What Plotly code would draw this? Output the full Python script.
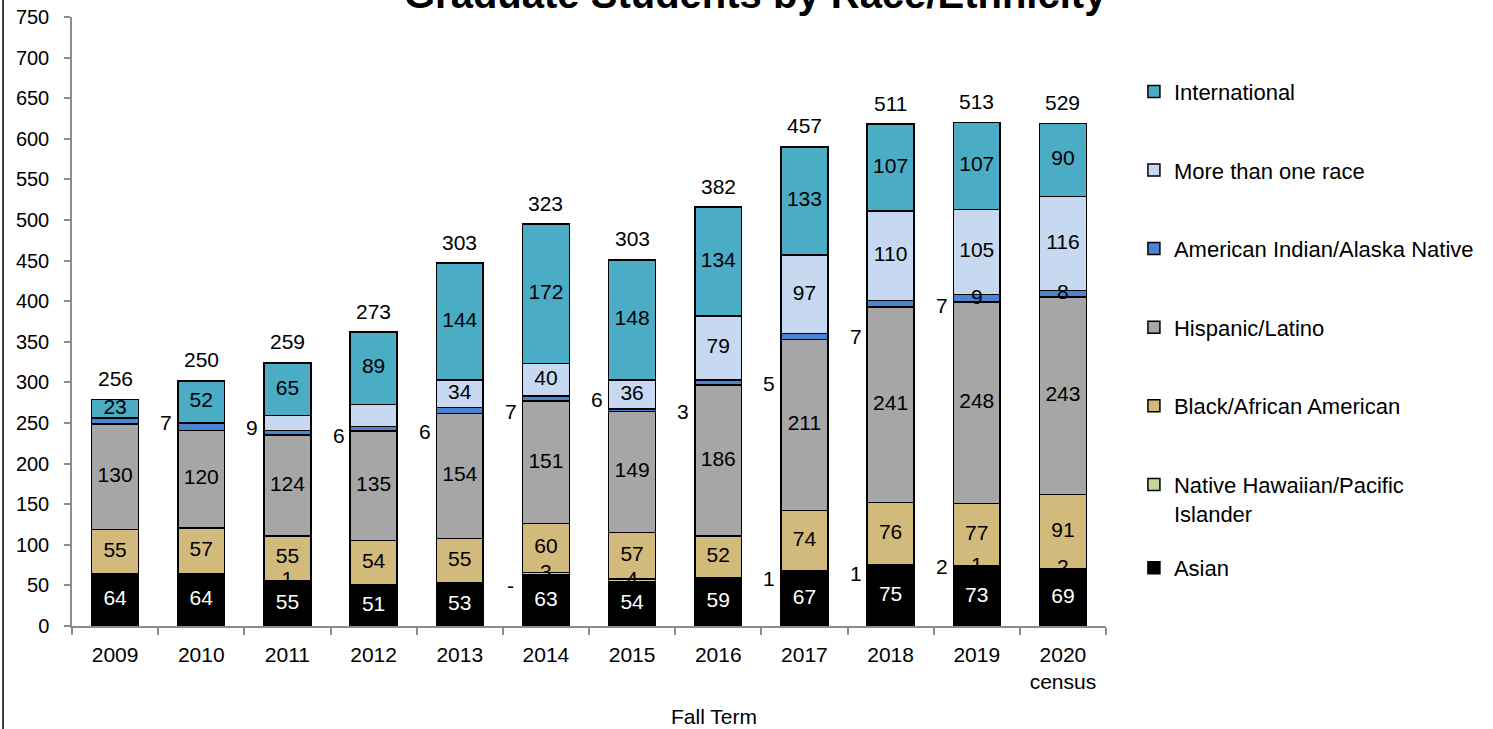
import numpy as np
import plotly.graph_objects as go

# ---------------- data ----------------
years = ["2009", "2010", "2011", "2012", "2013", "2014", "2015", "2016", "2017", "2018", "2019", "2020"]
year_ticktext = ["2009", "2010", "2011", "2012", "2013", "2014", "2015", "2016", "2017", "2018", "2019", "2020<br>census"]

asian = [64, 64, 55, 51, 53, 63, 54, 59, 67, 75, 73, 69]
native_hawaiian = [0, 0, 1, 0, 0, 3, 4, 0, 1, 1, 1, 2]
black = [55, 57, 55, 54, 55, 60, 57, 52, 74, 76, 77, 91]
hispanic = [130, 120, 124, 135, 154, 151, 149, 186, 211, 241, 248, 243]
am_indian = [7, 9, 6, 6, 7, 6, 3, 6, 7, 8, 9, 8]
multi_race = [0, 0, 18, 27, 34, 40, 36, 79, 97, 110, 105, 116]
international = [23, 52, 65, 89, 144, 172, 148, 134, 133, 107, 107, 90]

# which segments carry a value label inside the bar
nh_labelled = [False, False, True, False, False, True, True, False, False, False, True, True]
aian_labelled = [False] * 10 + [True, True]
multi_labelled = [False] * 4 + [True] * 8

# labels placed beside the bars (text and the value level they sit at)
upper_side_text = ["", "7", "9", "6", "6", "7", "6", "3", "5", "7", "7", ""]
upper_side_at = [None, 251, 244, 235, 239, 264, 279, 264, 299, 356, 395, None]
lower_side_text = ["", "", "", "", "", "-", "", "", "1", "1", "2", ""]
lower_side_at = [None, None, None, None, None, 50, None, None, 59, 65, 73, None]

FONT = "Arial, Liberation Sans, sans-serif"
LBL = 21

series = [
    dict(name="Asian", y=asian, color="#000000", lab=[True] * 12, tc="white", legend="legend2"),
    dict(name="Native Hawaiian/Pacific<br>Islander", y=native_hawaiian, color="#C3D69B", lab=nh_labelled, tc="black", legend="legend"),
    dict(name="Black/African American", y=black, color="#D1BA7C", lab=[True] * 12, tc="black", legend="legend"),
    dict(name="Hispanic/Latino", y=hispanic, color="#A5A6A5", lab=[True] * 12, tc="black", legend="legend"),
    dict(name="American Indian/Alaska Native", y=am_indian, color="#4A84D2", lab=aian_labelled, tc="black", legend="legend"),
    dict(name="More than one race", y=multi_race, color="#C6D9F1", lab=multi_labelled, tc="black", legend="legend"),
    dict(name="International", y=international, color="#4BACC6", lab=[True] * 12, tc="black", legend="legend"),
]

fig = go.Figure()
base = np.zeros(len(years))
for i, s in enumerate(series):
    vals = np.array(s["y"], dtype=float)
    fig.add_trace(go.Bar(
        x=years, y=vals, name=s["name"], legendgroup=f"g{i}", legend=s["legend"],
        legendrank=100 - i,
        marker=dict(color=s["color"], line=dict(color="black", width=1.5)),
        hoverinfo="skip",
    ))
    mids = base + vals / 2
    xs = [x for x, l in zip(years, s["lab"]) if l]
    ys = [m for m, l in zip(mids, s["lab"]) if l]
    ts = [str(int(v)) for v, l in zip(vals, s["lab"]) if l]
    fig.add_trace(go.Scatter(
        x=xs, y=ys, text=ts, mode="text", textposition="middle center",
        textfont=dict(family=FONT, size=LBL, color=s["tc"]),
        showlegend=False, hoverinfo="skip",
    ))
    base = base + vals

domestic = (np.array(asian) + np.array(native_hawaiian) + np.array(black) + np.array(hispanic)
            + np.array(am_indian) + np.array(multi_race))
stack_top = base

annotations = []
for idx, (top, tot) in enumerate(zip(stack_top, domestic)):
    annotations.append(dict(x=idx, y=top, xref="x", yref="y", text=str(int(tot)), showarrow=False,
                            yshift=21, font=dict(family=FONT, size=LBL, color="black")))
for idx, (t, at) in enumerate(zip(upper_side_text, upper_side_at)):
    if t:
        annotations.append(dict(x=idx, y=at, xref="x", yref="y", text=t, showarrow=False,
                                xshift=-35, font=dict(family=FONT, size=LBL, color="black")))
for idx, (t, at) in enumerate(zip(lower_side_text, lower_side_at)):
    if t:
        annotations.append(dict(x=idx, y=at, xref="x", yref="y", text=t, showarrow=False,
                                xshift=-35, font=dict(family=FONT, size=LBL, color="black")))

annotations.append(dict(x=0.6615, y=0.999, xref="paper", yref="paper", xanchor="center", yanchor="bottom",
                        text="<b>Graduate Students by Race/Ethnicity</b>", showarrow=False,
                        font=dict(family=FONT, size=40, color="black")))
annotations.append(dict(x=0.621, y=-0.1494, xref="paper", yref="paper", xanchor="center", yanchor="middle",
                        text="Fall Term", showarrow=False, font=dict(family=FONT, size=21, color="black")))

AXIS_COLOR = "#8C8C8C"
fig.update_layout(
    width=1493, height=729,
    margin=dict(l=72, r=387, t=17, b=103),
    paper_bgcolor="white", plot_bgcolor="white",
    barmode="stack", bargap=0.455,
    font=dict(family=FONT, size=20, color="black"),
    annotations=annotations,
    shapes=[dict(type="line", xref="paper", yref="paper", x0=-0.0667, x1=-0.0667, y0=-0.2, y1=1.05,
                 line=dict(color="black", width=1.5))],
    xaxis=dict(
        type="category", categoryorder="array", categoryarray=years,
        tickmode="array", tickvals=years, ticktext=year_ticktext,
        range=[-0.5, len(years) - 0.5], autorange=False,
        showline=True, linecolor=AXIS_COLOR, linewidth=1.5, automargin=False,
        ticks="outside", tickson="boundaries", ticklen=7, tickcolor=AXIS_COLOR, tickwidth=1.5,
        showgrid=False, tickfont=dict(family=FONT, size=21, color="black"), ticklabelstandoff=9,
    ),
    yaxis=dict(
        range=[0, 750], autorange=False, dtick=50, showline=True, linecolor=AXIS_COLOR, linewidth=1.5,
        ticks="outside", ticklen=6, tickcolor=AXIS_COLOR, tickwidth=1.5, automargin=False,
        showgrid=False, zeroline=False, tickfont=dict(family=FONT, size=20, color="black"),
        ticklabelstandoff=11,
    ),
    legend=dict(x=1.027, y=0.912, xanchor="left", yanchor="top", traceorder="grouped",
                tracegroupgap=47, valign="top", bgcolor="rgba(0,0,0,0)",
                font=dict(family=FONT, size=22, color="black")),
    legend2=dict(x=1.027, y=0.13, xanchor="left", yanchor="top", bgcolor="rgba(0,0,0,0)",
                 font=dict(family=FONT, size=22, color="black")),
)

fig.write_html("out.html", config={"displayModeBar": False},
               post_script="document.body.style.margin='0';")
